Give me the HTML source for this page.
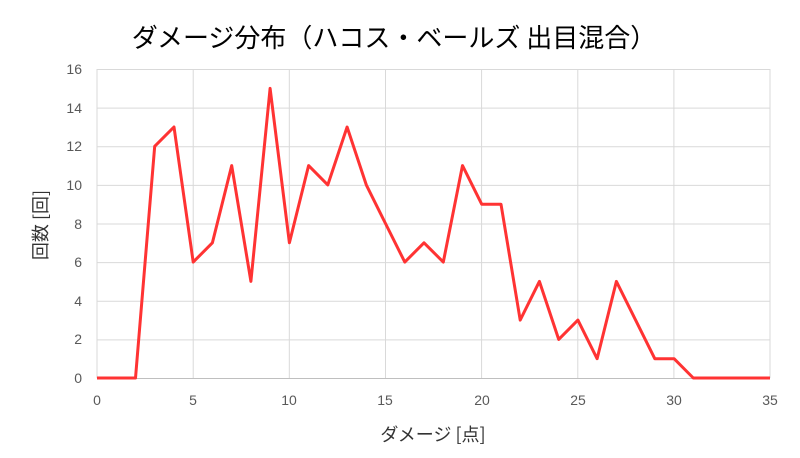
<!DOCTYPE html>
<html><head><meta charset="utf-8"><style>
html,body{margin:0;padding:0;background:#fff;}
svg{display:block;font-family:"Liberation Sans","Noto Sans CJK JP",sans-serif;}
</style></head><body>
<svg width="800" height="458" viewBox="0 0 800 458" xmlns="http://www.w3.org/2000/svg">
<rect width="800" height="458" fill="#fff"/>
<text x="394" y="47" font-size="26" text-anchor="middle" fill="#000" font-family="'Noto Sans CJK JP',sans-serif">ダメージ分布（ハコス・ベールズ 出目混合）</text>
<g stroke="#d9d9d9" stroke-width="1">
<line x1="97" y1="69.5" x2="770" y2="69.5"/>
<line x1="97" y1="108.1" x2="770" y2="108.1"/>
<line x1="97" y1="146.8" x2="770" y2="146.8"/>
<line x1="97" y1="185.4" x2="770" y2="185.4"/>
<line x1="97" y1="224" x2="770" y2="224"/>
<line x1="97" y1="262.6" x2="770" y2="262.6"/>
<line x1="97" y1="301.3" x2="770" y2="301.3"/>
<line x1="97" y1="339.9" x2="770" y2="339.9"/>
<line x1="193.2" y1="69" x2="193.2" y2="378"/>
<line x1="289.3" y1="69" x2="289.3" y2="378"/>
<line x1="385.5" y1="69" x2="385.5" y2="378"/>
<line x1="481.6" y1="69" x2="481.6" y2="378"/>
<line x1="577.8" y1="69" x2="577.8" y2="378"/>
<line x1="673.9" y1="69" x2="673.9" y2="378"/>
<line x1="770" y1="69" x2="770" y2="378"/>
<line x1="97" y1="69" x2="97" y2="378"/>
</g>
<line x1="97" y1="378.5" x2="770" y2="378.5" stroke="#bfbfbf"/>
<g font-size="14" fill="#595959" text-anchor="end">
<text x="82" y="383">0</text><text x="82" y="344">2</text><text x="82" y="306">4</text><text x="82" y="267">6</text><text x="82" y="229">8</text><text x="82" y="190">10</text><text x="82" y="151">12</text><text x="82" y="113">14</text><text x="82" y="74">16</text>
</g>
<g font-size="14" fill="#595959" text-anchor="middle">
<text x="97" y="405">0</text><text x="193" y="405">5</text><text x="289" y="405">10</text><text x="385" y="405">15</text><text x="482" y="405">20</text><text x="578" y="405">25</text><text x="674" y="405">30</text><text x="770" y="405">35</text>
</g>
<text x="433" y="441" font-size="18" text-anchor="middle" fill="#333" font-family="'Noto Sans CJK JP',sans-serif">ダメージ [点]</text>
<text transform="translate(47,225) rotate(-90)" font-size="18" text-anchor="middle" fill="#333" font-family="'Noto Sans CJK JP',sans-serif">回数 [回]</text>
<polyline fill="none" stroke="#ff3333" stroke-width="3" stroke-linejoin="round" points="97,378 116.2,378 135.5,378 154.7,146.3 174,127 193.2,262.1 212.4,242.8 231.7,165.6 250.9,281.4 270.1,88.4 289.4,242.8 308.6,165.6 327.8,184.9 347.1,127 366.3,184.9 385.5,223.5 404.8,262.1 424,242.8 443.3,262.1 462.5,165.6 481.7,204.2 501,204.2 520.2,320.1 539.4,281.4 558.7,339.4 577.9,320.1 597.1,358.7 616.4,281.4 635.6,320.1 654.8,358.7 674.1,358.7 693.3,378 712.6,378 731.8,378 751,378 770,378"/>
</svg>
</body></html>
